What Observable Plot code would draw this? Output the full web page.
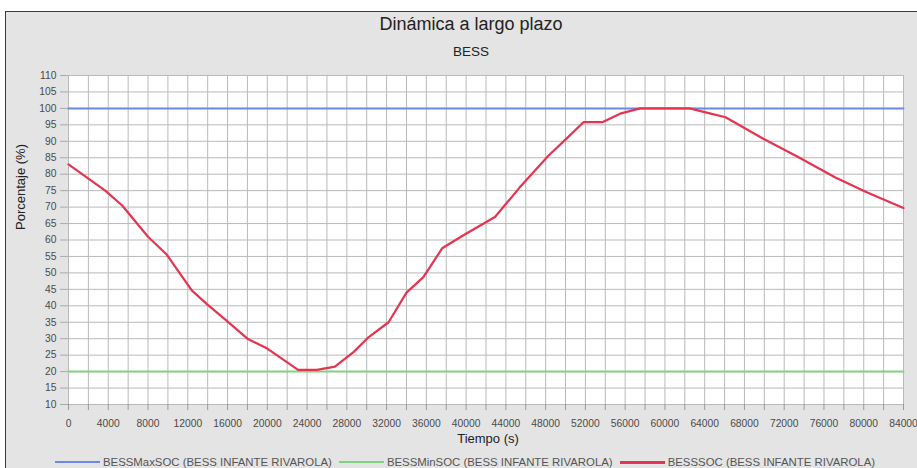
<!DOCTYPE html>
<html><head><meta charset="utf-8">
<script src="https://cdn.jsdelivr.net/npm/d3@7"></script>
<script src="https://cdn.jsdelivr.net/npm/@observablehq/plot@0.6"></script>
<style>
body{margin:0;background:#fff;font-family:"Liberation Sans",Arial,sans-serif;}
#wrap{position:relative;width:917px;height:468px;overflow:hidden;}
#panel{position:absolute;left:5px;top:11px;width:930px;height:480px;background:#e4e4e4;border:1px solid #3a3a3a;}
#title{position:absolute;top:14px;left:0;width:942px;text-align:center;font-size:18px;color:#222;}
#subtitle{position:absolute;top:44px;left:0;width:942px;text-align:center;font-size:13.5px;color:#222;}
#chart{position:absolute;left:0;top:0;}
#legend{position:absolute;top:456px;left:0;width:930px;display:flex;justify-content:center;gap:7px;font-size:11.4px;color:#555;}
.item{display:flex;align-items:center;}
.sw{display:inline-block;width:45px;height:0;margin-right:3px;}
</style></head>
<body>
<div id="wrap">
  <div id="panel"></div>
  <div id="title">Dinámica a largo plazo</div>
  <div id="subtitle">BESS</div>
  <div id="chart"></div>
  <div id="legend"></div>
</div>
<script>
const seriesNames = ["BESSMaxSOC (BESS INFANTE RIVAROLA)", "BESSMinSOC (BESS INFANTE RIVAROLA)", "BESSSOC (BESS INFANTE RIVAROLA)"];
const seriesColors = ["#6a8ae4", "#7fd27f", "#e5344f"];
const tLimits = [0, 84000];
const maxSOC = [100, 100];
const minSOC = [20, 20];
const tSOC = [0, 3700, 5400, 8000, 9900, 12400, 13900, 15900, 18000, 20000, 23100, 25000, 26800, 28700, 30200, 32200, 34000, 35700, 37600, 39600, 42900, 45400, 48300, 50100, 51800, 53700, 55500, 57500, 62500, 64200, 66100, 69900, 73400, 77100, 80300, 84000];
const vSOC = [83, 75, 70.5, 61, 55.5, 44.7, 40.6, 35.5, 30, 27, 20.5, 20.5, 21.5, 26, 30.5, 35, 44, 48.7, 57.5, 61.2, 67, 76, 85.7, 90.8, 95.8, 95.8, 98.4, 100, 100, 98.7, 97.3, 90.8, 85.2, 79.1, 74.5, 69.7];
const xLabel = "Tiempo (s)";
const yLabel = "Porcentaje (%)";

const maxData = tLimits.map((t, i) => ({t, v: maxSOC[i]}));
const minData = tLimits.map((t, i) => ({t, v: minSOC[i]}));
const socData = tSOC.map((t, i) => ({t, v: vSOC[i]}));

const xTicksMajor = d3.range(0, 84001, 4000);
const xTicksMinor = d3.range(0, 84001, 2000);
const yTicks = d3.range(10, 111, 5);

const plot = Plot.plot({
  width: 917, height: 468,
  marginLeft: 68, marginRight: 14, marginTop: 75, marginBottom: 64,
  style: {background: "transparent", fontFamily: "'Liberation Sans', Arial, sans-serif", fontSize: "10.3px", color: "#4a4a4a"},
  x: {domain: [0, 84000]},
  y: {domain: [10, 110]},
  marks: [
    Plot.frame({fill: "white", stroke: "#bbb"}),
    Plot.gridX(xTicksMinor, {stroke: "#b9b9b9", strokeOpacity: 1}),
    Plot.gridY(yTicks, {stroke: "#b9b9b9", strokeOpacity: 1}),
    Plot.axisY({ticks: yTicks, tickSize: 8, tickPadding: 4, label: null, stroke: "#aaa"}),
    Plot.axisX({ticks: xTicksMinor, tickSize: 6, tickFormat: () => "", label: null, stroke: "#999"}),
    Plot.axisX({ticks: xTicksMajor, tickSize: 0, tickPadding: 15, tickFormat: d3.format("d"), label: null}),
    Plot.line(maxData, {x: "t", y: "v", stroke: seriesColors[0], strokeWidth: 2}),
    Plot.line(minData, {x: "t", y: "v", stroke: seriesColors[1], strokeWidth: 2}),
    Plot.line(socData, {x: "t", y: "v", stroke: seriesColors[2], strokeWidth: 2.2}),
    Plot.text([xLabel], {frameAnchor: "bottom", dy: 38, dx: 2, fontSize: 13, fill: "#222"}),
    Plot.text([yLabel], {frameAnchor: "left", dx: -48, dy: -10, rotate: -90, fontSize: 13, fill: "#222"})
  ]
});
document.getElementById("chart").appendChild(plot);

const legend = document.getElementById("legend");
seriesNames.forEach((name, i) => {
  const it = document.createElement("div");
  it.className = "item";
  const sw = document.createElement("span");
  sw.className = "sw";
  sw.style.borderTop = (i === 2 ? 3 : 2) + "px solid " + seriesColors[i];
  it.appendChild(sw);
  const tx = document.createElement("span");
  tx.textContent = name;
  it.appendChild(tx);
  legend.appendChild(it);
});
</script>
</body></html>
